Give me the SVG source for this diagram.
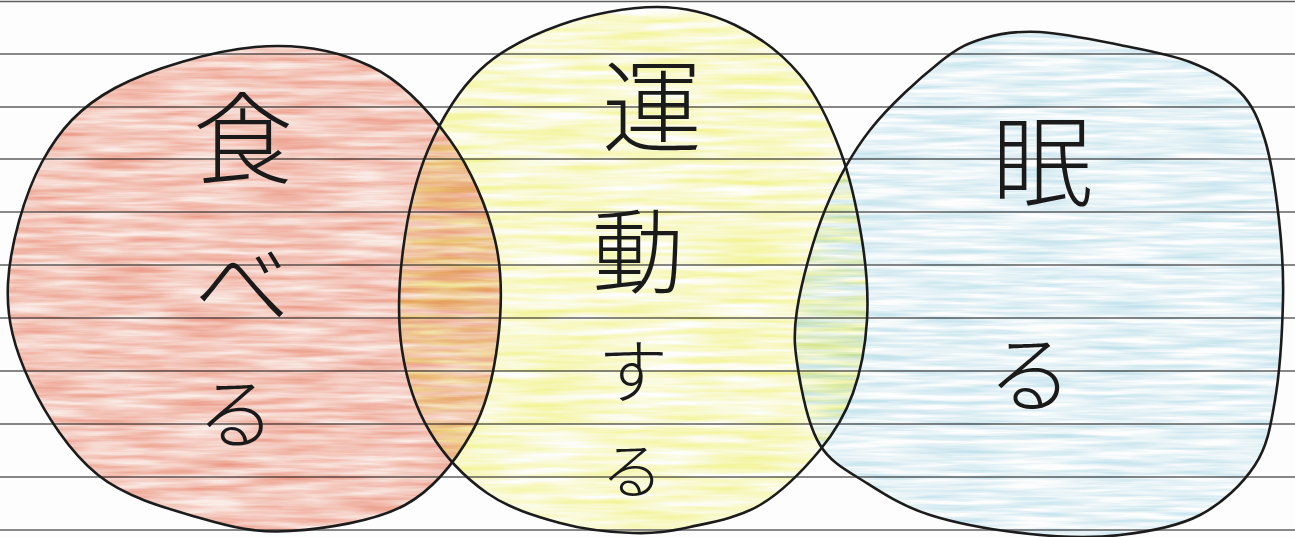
<svg xmlns="http://www.w3.org/2000/svg" width="1295" height="537" viewBox="0 0 1295 537">
<style>
.paper{stroke:#5f5f5f;stroke-width:1.3;fill:none}
.outline{fill:none;stroke:#1c1c1c;stroke-width:2.6;stroke-linejoin:round;stroke-linecap:round}
.fill{mix-blend-mode:multiply;stroke:none}
.hand{font-family:"Noto Sans CJK JP","Noto Sans CJK SC",sans-serif;font-weight:300;fill:#1a1a1a;text-anchor:middle}
</style>
<defs>
<filter id="texR" x="-5%" y="-5%" width="110%" height="110%">
<feTurbulence type="fractalNoise" baseFrequency="0.012 0.16" numOctaves="3" seed="3" result="n"/>
<feColorMatrix in="n" type="matrix" values="0 0 0 0 0  0 0 0 0 0  0 0 0 0 0  1.15 0 0 0 -0.25" result="m"/>
<feComposite in="SourceGraphic" in2="m" operator="in"/>
</filter>
<filter id="texY" x="-5%" y="-5%" width="110%" height="110%">
<feTurbulence type="fractalNoise" baseFrequency="0.01 0.14" numOctaves="3" seed="11" result="n"/>
<feColorMatrix in="n" type="matrix" values="0 0 0 0 0  0 0 0 0 0  0 0 0 0 0  1.5 0 0 0 -0.35" result="m"/>
<feComposite in="SourceGraphic" in2="m" operator="in"/>
</filter>
<filter id="texB" x="-5%" y="-5%" width="110%" height="110%">
<feTurbulence type="fractalNoise" baseFrequency="0.012 0.2" numOctaves="3" seed="7" result="n"/>
<feColorMatrix in="n" type="matrix" values="0 0 0 0 0  0 0 0 0 0  0 0 0 0 0  1.2 0 0 0 -0.35" result="m"/>
<feComposite in="SourceGraphic" in2="m" operator="in"/>
</filter>
</defs>
<rect width="1295" height="537" fill="#fdfdfd"/>
<g id="paper-lines" class="paper">
<line x1="0" y1="1.5" x2="1295" y2="1.5"/>
<line x1="0" y1="54" x2="1295" y2="54"/>
<line x1="0" y1="107" x2="1295" y2="107"/>
<line x1="0" y1="159" x2="1295" y2="159"/>
<line x1="0" y1="212" x2="1295" y2="212"/>
<line x1="0" y1="265" x2="1295" y2="265"/>
<line x1="0" y1="318" x2="1295" y2="318"/>
<line x1="0" y1="371" x2="1295" y2="371"/>
<line x1="0" y1="424" x2="1295" y2="424"/>
<line x1="0" y1="477" x2="1295" y2="477"/>
<line x1="0" y1="530" x2="1295" y2="530"/>
</g>
<g id="taberu">
<path class="fill" fill="#fcede8" d="M255,47 C297.5,43.3 337.5,50.5 370,66 C402.5,81.5 429.2,111 450,140 C470.8,169 487,206.7 495,240 C503,273.3 501.8,308 498,340 C494.2,372 487.5,404.5 472,432 C456.5,459.5 435.3,488.5 405,505 C374.7,521.5 324.2,528.8 290,531 C255.8,533.2 232,527.3 200,518 C168,508.7 126.3,497.7 98,475 C69.7,452.3 45,414 30,382 C15,350 6,319.7 8,283 C10,246.3 24.2,194.5 42,162 C59.8,129.5 79.5,107.2 115,88 C150.5,68.8 212.5,50.7 255,47 Z"/>
<path class="fill" fill="#ed8e77" filter="url(#texR)" d="M255,47 C297.5,43.3 337.5,50.5 370,66 C402.5,81.5 429.2,111 450,140 C470.8,169 487,206.7 495,240 C503,273.3 501.8,308 498,340 C494.2,372 487.5,404.5 472,432 C456.5,459.5 435.3,488.5 405,505 C374.7,521.5 324.2,528.8 290,531 C255.8,533.2 232,527.3 200,518 C168,508.7 126.3,497.7 98,475 C69.7,452.3 45,414 30,382 C15,350 6,319.7 8,283 C10,246.3 24.2,194.5 42,162 C59.8,129.5 79.5,107.2 115,88 C150.5,68.8 212.5,50.7 255,47 Z"/>
<path class="outline" d="M255,47 C297.5,43.3 337.5,50.5 370,66 C402.5,81.5 429.2,111 450,140 C470.8,169 487,206.7 495,240 C503,273.3 501.8,308 498,340 C494.2,372 487.5,404.5 472,432 C456.5,459.5 435.3,488.5 405,505 C374.7,521.5 324.2,528.8 290,531 C255.8,533.2 232,527.3 200,518 C168,508.7 126.3,497.7 98,475 C69.7,452.3 45,414 30,382 C15,350 6,319.7 8,283 C10,246.3 24.2,194.5 42,162 C59.8,129.5 79.5,107.2 115,88 C150.5,68.8 212.5,50.7 255,47 Z"/>
<text class="hand"><tspan x="243" y="176" font-size="100">食</tspan><tspan x="242" y="320" font-size="95">べ</tspan><tspan x="236" y="443" font-size="78">る</tspan></text>
</g>
<g id="undou">
<path class="fill" fill="#f4f58c" filter="url(#texY)" d="M657,7 C686.2,7 711.2,13.7 735,25 C758.8,36.3 782.5,54.2 800,75 C817.5,95.8 829.7,122.5 840,150 C850.3,177.5 857.5,211.7 862,240 C866.5,268.3 868.5,294.5 867,320 C865.5,345.5 860.8,371.3 853,393 C845.2,414.7 835.5,431.3 820,450 C804.5,468.7 781.7,492.2 760,505 C738.3,517.8 711.2,522.3 690,527 C668.8,531.7 654.7,533.7 633,533 C611.3,532.3 584.3,529.7 560,523 C535.7,516.3 508.7,508.2 487,493 C465.3,477.8 444.2,455.8 430,432 C415.8,408.2 406.5,380.3 402,350 C397.5,319.7 398.7,283.3 403,250 C407.3,216.7 415.2,180 428,150 C440.8,120 458,90.8 480,70 C502,49.2 530.5,35.5 560,25 C589.5,14.5 627.8,7 657,7 Z"/>
<path class="outline" d="M657,7 C686.2,7 711.2,13.7 735,25 C758.8,36.3 782.5,54.2 800,75 C817.5,95.8 829.7,122.5 840,150 C850.3,177.5 857.5,211.7 862,240 C866.5,268.3 868.5,294.5 867,320 C865.5,345.5 860.8,371.3 853,393 C845.2,414.7 835.5,431.3 820,450 C804.5,468.7 781.7,492.2 760,505 C738.3,517.8 711.2,522.3 690,527 C668.8,531.7 654.7,533.7 633,533 C611.3,532.3 584.3,529.7 560,523 C535.7,516.3 508.7,508.2 487,493 C465.3,477.8 444.2,455.8 430,432 C415.8,408.2 406.5,380.3 402,350 C397.5,319.7 398.7,283.3 403,250 C407.3,216.7 415.2,180 428,150 C440.8,120 458,90.8 480,70 C502,49.2 530.5,35.5 560,25 C589.5,14.5 627.8,7 657,7 Z"/>
<text class="hand"><tspan x="652" y="144" font-size="100">運</tspan><tspan x="638" y="286" font-size="92">動</tspan><tspan x="633" y="398" font-size="70">す</tspan><tspan x="632" y="494" font-size="62">る</tspan></text>
</g>
<g id="nemuru">
<path class="fill" fill="#a6d6e6" filter="url(#texB)" d="M1040,32 C1062.5,33.2 1095,40 1120,45 C1145,50 1170,54.2 1190,62 C1210,69.8 1227.5,79 1240,92 C1252.5,105 1258.5,118.7 1265,140 C1271.5,161.3 1276,193.3 1279,220 C1282,246.7 1283.7,270 1283,300 C1282.3,330 1279.7,372.5 1275,400 C1270.3,427.5 1267.5,445.8 1255,465 C1242.5,484.2 1222.5,503.3 1200,515 C1177.5,526.7 1148.3,531.8 1120,535 C1091.7,538.2 1061.7,537.3 1030,534 C998.3,530.7 957.5,523.7 930,515 C902.5,506.3 883.3,493.7 865,482 C846.7,470.3 831,462.8 820,445 C809,427.2 802.8,397.5 799,375 C795.2,352.5 792.7,337.5 797,310 C801.3,282.5 812.8,240 825,210 C837.2,180 850.8,154.7 870,130 C889.2,105.3 920.8,77.3 940,62 C959.2,46.7 968.3,43 985,38 C1001.7,33 1017.5,30.8 1040,32 Z"/>
<path class="outline" d="M1040,32 C1062.5,33.2 1095,40 1120,45 C1145,50 1170,54.2 1190,62 C1210,69.8 1227.5,79 1240,92 C1252.5,105 1258.5,118.7 1265,140 C1271.5,161.3 1276,193.3 1279,220 C1282,246.7 1283.7,270 1283,300 C1282.3,330 1279.7,372.5 1275,400 C1270.3,427.5 1267.5,445.8 1255,465 C1242.5,484.2 1222.5,503.3 1200,515 C1177.5,526.7 1148.3,531.8 1120,535 C1091.7,538.2 1061.7,537.3 1030,534 C998.3,530.7 957.5,523.7 930,515 C902.5,506.3 883.3,493.7 865,482 C846.7,470.3 831,462.8 820,445 C809,427.2 802.8,397.5 799,375 C795.2,352.5 792.7,337.5 797,310 C801.3,282.5 812.8,240 825,210 C837.2,180 850.8,154.7 870,130 C889.2,105.3 920.8,77.3 940,62 C959.2,46.7 968.3,43 985,38 C1001.7,33 1017.5,30.8 1040,32 Z"/>
<text class="hand"><tspan x="1042" y="199" font-size="100">眠</tspan><tspan x="1030" y="406" font-size="85">る</tspan></text>
</g>
<g id="connectors"/>
</svg>
